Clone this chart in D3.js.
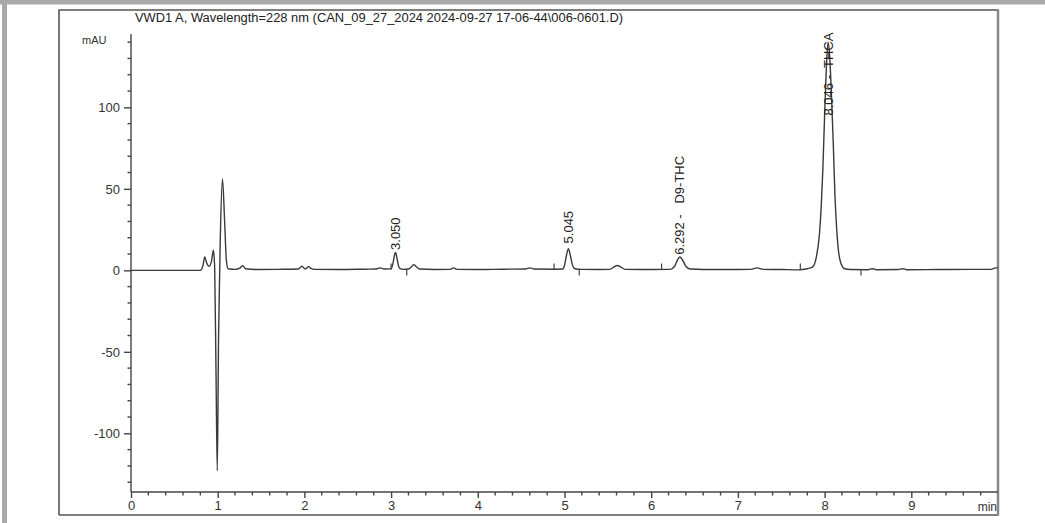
<!DOCTYPE html>
<html>
<head>
<meta charset="utf-8">
<script src="https://cdn.jsdelivr.net/npm/d3@7"></script>
<style>
  body { margin: 0; background: #fff; }
  svg { display: block; font-family: "Liberation Sans", Arial, sans-serif; }
  .peak { white-space: pre; }
</style>
</head>
<body>
<svg id="chart" width="1045" height="523"></svg>
<script>
// chromatogram trace (time in min, signal in mAU)
var traceTime = [0, 0.80, 0.83, 0.85, 0.87, 0.90, 0.93, 0.95, 0.965, 0.98, 0.995, 1.01, 1.03, 1.055, 1.08, 1.10, 1.12, 1.20, 1.26, 1.29, 1.32, 1.45, 1.70, 1.93, 1.97, 2.01, 2.05, 2.08, 2.12, 2.40, 2.70, 2.83, 2.87, 2.92, 2.98, 3.00, 3.02, 3.04, 3.05, 3.06, 3.08, 3.10, 3.14, 3.20, 3.24, 3.26, 3.29, 3.33, 3.50, 3.68, 3.72, 3.76, 4.00, 4.30, 4.55, 4.60, 4.65, 4.90, 4.98, 5.00, 5.02, 5.045, 5.07, 5.09, 5.12, 5.20, 5.40, 5.52, 5.57, 5.61, 5.65, 5.70, 5.90, 6.15, 6.22, 6.27, 6.30, 6.33, 6.36, 6.40, 6.45, 6.60, 7.00, 7.15, 7.22, 7.29, 7.50, 7.70, 7.80, 7.86, 7.90, 7.94, 7.96, 7.98, 8.00, 8.02, 8.04, 8.06, 8.08, 8.10, 8.12, 8.14, 8.16, 8.19, 8.23, 8.30, 8.50, 8.55, 8.60, 8.85, 8.90, 8.95, 9.30, 9.70, 9.92, 9.97, 10.0];
var traceMAU = [0, 0, 3, 8.2, 5, 2.5, 6, 12.3, 2, -60, -123, -40, 20, 56, 30, 6, 1, 0.6, 1.5, 2.9, 1, 0.5, 0.6, 0.8, 2.5, 0.8, 2.3, 1, 0.6, 0.5, 0.7, 0.8, 1.5, 0.8, 0.9, 1, 4, 9.5, 10.9, 9.5, 4, 1.2, 0.6, 0.8, 2.5, 3.5, 2.2, 0.8, 0.5, 0.6, 1.5, 0.6, 0.5, 0.7, 0.8, 1.5, 0.8, 0.7, 0.8, 3, 8.5, 13.3, 8.5, 3.5, 1, 0.6, 0.5, 0.6, 2, 3, 2, 0.6, 0.5, 0.6, 0.6, 2.5, 6, 8.2, 6.5, 2.5, 0.8, 0.5, 0.5, 0.6, 1.5, 0.6, 0.5, 0.3, 1, 2, 7, 22, 38, 62, 95, 124, 140, 130, 106, 78, 45, 25, 12, 4, 1, 0.5, 0.4, 1, 0.4, 0.5, 1, 0.4, 0.5, 0.6, 0.6, 1.5, 1.5];

// integration baseline marks: time, up (1) or down (-1)
var markTime = [3.00, 3.18, 4.88, 5.17, 6.12, 7.72, 8.42];
var markDir = [1, -1, 1, -1, 1, 1, -1];

// peak labels: apex time, text, where the text starts (mAU)
var peakTime = [3.05, 5.045, 6.33, 8.04];
var peakText = ["3.050", "5.045", "6.292 -   D9-THC", "8.046 -  THCA"];
var peakLabelAt = [12.5, 16.5, 9.5, 95];

var yMajor = [-100, -50, 0, 50, 100];
var xMajor = [0, 1, 2, 3, 4, 5, 6, 7, 8, 9];

var title = "VWD1 A, Wavelength=228 nm (CAN_09_27_2024 2024-09-27 17-06-44\\006-0601.D)";

var svg = d3.select("#chart");
var ink = "#444";

// page frame
svg.append("rect").attr("x", 0).attr("y", 0).attr("width", 1045).attr("height", 4.5).attr("fill", "#a9a9a9");
svg.append("rect").attr("x", 2).attr("y", 0).attr("width", 5).attr("height", 523).attr("fill", "#a9a9a9");
svg.append("path")
    .attr("d", "M59,515V10H998V515H59")
    .attr("fill", "none").attr("stroke", "#555").attr("stroke-width", 1.6);
svg.append("line")
    .attr("x1", 998).attr("x2", 998).attr("y1", 10).attr("y2", 515)
    .attr("stroke", "#888").attr("stroke-width", 2.5);

var x = d3.scaleLinear().domain([0, 10]).range([131, 998]);
var y = d3.scaleLinear().domain([-136, 145]).range([492, 34]);

// title and unit
svg.append("text")
    .attr("x", 135).attr("y", 22)
    .attr("font-size", "12px").attr("fill", "#222")
    .attr("textLength", 488).attr("lengthAdjust", "spacingAndGlyphs")
    .text(title);
svg.append("text")
    .attr("x", 82).attr("y", 44)
    .attr("font-size", "11px").attr("fill", "#333")
    .text("mAU");

// y axis
var yAxis = d3.axisLeft(y).tickValues(yMajor).tickSize(7).tickPadding(4)
    .tickFormat(function(d) { return String(d); });
var gy = svg.append("g")
    .attr("transform", "translate(" + x(0) + ",0)")
    .call(yAxis);
gy.select(".domain").attr("d", "M0," + y(145) + "V" + y(-136));
gy.selectAll(".tick text").attr("font-size", "13px").attr("fill", "#333");
var yMinor = d3.range(-130, 145, 10).filter(function(v) { return v % 50 !== 0; });
gy.selectAll(".minor").data(yMinor).enter().append("line")
    .attr("x1", -3.5).attr("x2", 0)
    .attr("y1", function(d) { return y(d); }).attr("y2", function(d) { return y(d); });

// x axis
var xAxis = d3.axisBottom(x).tickValues(xMajor).tickSize(6).tickPadding(3)
    .tickFormat(function(d) { return String(d); });
var gx = svg.append("g")
    .attr("transform", "translate(0," + y(-136) + ")")
    .call(xAxis);
gx.select(".domain").attr("d", "M" + x(0) + ",0H" + x(10));
gx.selectAll(".tick text").attr("font-size", "13px").attr("fill", "#333");
var xMinor = d3.range(0.2, 9.99, 0.2).filter(function(v) { return Math.abs(v - Math.round(v)) > 0.01; });
gx.selectAll(".minor").data(xMinor).enter().append("line")
    .attr("x1", function(d) { return x(d); }).attr("x2", function(d) { return x(d); })
    .attr("y1", 0).attr("y2", 3.5);
gx.append("text")
    .attr("x", x(10) - 1).attr("y", 19)
    .attr("text-anchor", "end").attr("font-size", "12px").attr("fill", "#333")
    .text("min");

svg.selectAll(".domain, .tick line").attr("stroke", ink).attr("stroke-width", 1.4);
svg.selectAll("g line").attr("stroke", ink).attr("stroke-width", 1.4);

// signal
var trace = traceTime.map(function(t, i) { return [t, traceMAU[i]]; });
var line = d3.line()
    .x(function(d) { return x(d[0]); })
    .y(function(d) { return y(d[1]); })
    .curve(d3.curveMonotoneX);
svg.append("path")
    .datum(trace)
    .attr("d", line)
    .attr("fill", "none")
    .attr("stroke", "#3a3a3a")
    .attr("stroke-width", 1.4)
    .attr("stroke-linejoin", "round");

// baseline marks
svg.selectAll(".mark").data(markTime).enter().append("line")
    .attr("x1", function(d) { return x(d); }).attr("x2", function(d) { return x(d); })
    .attr("y1", y(0.5))
    .attr("y2", function(d, i) { return y(0.5) - markDir[i] * 6; })
    .attr("stroke", "#444").attr("stroke-width", 1.2);

// peak labels
svg.selectAll(".peak").data(peakTime).enter().append("text")
    .attr("class", "peak")
    .attr("transform", function(d, i) {
        return "translate(" + x(d) + "," + y(peakLabelAt[i]) + ") rotate(-90)";
    })
    .attr("dy", "0.35em")
    .attr("font-size", "13px").attr("fill", "#222")
    .text(function(d, i) { return peakText[i]; });
</script>
</body>
</html>
